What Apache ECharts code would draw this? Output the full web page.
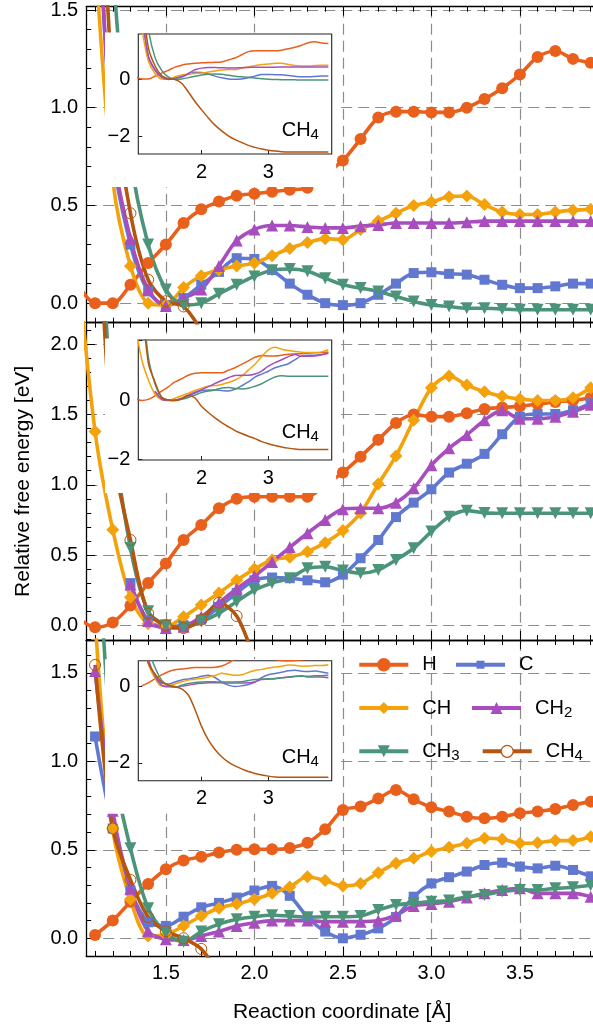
<!DOCTYPE html>
<html><head><meta charset="utf-8">
<script src="https://cdn.jsdelivr.net/npm/echarts@6/dist/echarts.min.js"></script>
<style>html,body{margin:0;padding:0;background:#fff}#c{width:593px;height:1032px}</style>
</head><body><div id="c"></div>
<script>
// ---------------- data ----------------
const X = [1.0,1.1,1.2,1.3,1.4,1.5,1.6,1.7,1.8,1.9,2.0,2.1,2.2,2.3,2.4,2.5,2.6,2.7,2.8,2.9,3.0,3.1,3.2,3.3,3.4,3.5,3.6,3.7,3.8,3.9];
const SERIES_NAMES = ['H','C','CH','CH2','CH3','CH4'];

// panel 1 (top)
const H_1   = [0.10,0.00,0.00,0.094,0.205,0.30,0.41,0.48,0.52,0.55,0.56,0.57,0.58,0.59,0.66,0.73,0.84,0.95,0.98,0.98,0.976,0.976,1.00,1.045,1.10,1.17,1.26,1.29,1.25,1.23];
const C_1   = [null,2.4,0.78,0.30,0.06,-0.01,0.026,0.094,0.16,0.23,0.226,0.17,0.10,0.043,0.0,-0.01,0.0,0.043,0.10,0.154,0.158,0.15,0.146,0.12,0.094,0.077,0.077,0.086,0.10,0.10];
const CH_1  = [null,1.8,0.63,0.19,0.0,-0.01,0.08,0.14,0.17,0.19,0.205,0.243,0.28,0.31,0.33,0.325,0.377,0.42,0.46,0.50,0.517,0.545,0.548,0.505,0.466,0.454,0.454,0.466,0.476,0.48];
const CH2_1 = [null,2.4,0.8,0.33,0.07,-0.014,0.026,0.07,0.19,0.32,0.377,0.397,0.397,0.39,0.385,0.385,0.394,0.40,0.41,0.41,0.41,0.41,0.414,0.42,0.42,0.42,0.42,0.42,0.42,0.42];
const CH3_1 = [null,4.0,1.75,0.75,0.30,0.07,-0.01,0.0,0.048,0.094,0.137,0.168,0.175,0.163,0.128,0.094,0.077,0.06,0.034,0.009,-0.009,-0.017,-0.026,-0.026,-0.03,-0.034,-0.034,-0.034,-0.034,-0.034];
const CH4_1 = [null,3.0,1.1,0.46,0.12,0.01,-0.017,-0.15,-0.45,-0.78,-1.07,-1.35,-1.6,-1.8,-1.97,-2.1,-2.2,-2.3,-2.37,-2.43,-2.47,-2.5,-2.52,-2.53,-2.53,-2.53,-2.53,-2.53,-2.53,-2.53];

// panel 2 (middle)
const H_2   = [0.06,-0.014,0.02,0.14,0.30,0.44,0.607,0.714,0.833,0.90,0.915,0.915,0.915,0.915,1.0,1.087,1.20,1.32,1.44,1.50,1.485,1.485,1.51,1.54,1.55,1.56,1.575,1.59,1.60,1.62];
const C_2   = [null,null,null,0.30,0.03,-0.01,0.0,0.04,0.13,0.23,0.32,0.34,0.335,0.32,0.306,0.36,0.477,0.607,0.77,0.873,0.968,1.087,1.15,1.22,1.36,1.485,1.504,1.504,1.53,1.58];
const CH_2  = [2.6,1.38,0.68,0.20,0.01,-0.01,0.06,0.145,0.23,0.32,0.40,0.465,0.484,0.524,0.588,0.674,0.80,1.006,1.205,1.46,1.69,1.775,1.71,1.663,1.63,1.61,1.60,1.60,1.62,1.69];
const CH2_2 = [null,null,null,0.29,0.03,-0.02,-0.01,0.06,0.16,0.26,0.35,0.45,0.555,0.655,0.75,0.826,0.833,0.833,0.873,0.975,1.14,1.26,1.355,1.46,1.53,1.47,1.47,1.485,1.52,1.57];
const CH3_2 = [null,3.8,1.45,0.55,0.10,0.0,-0.014,0.026,0.085,0.168,0.25,0.30,0.335,0.405,0.417,0.39,0.37,0.394,0.465,0.548,0.667,0.773,0.816,0.80,0.797,0.797,0.797,0.797,0.797,0.797];
const CH4_2 = [null,3.5,1.25,0.607,0.085,0.0,-0.02,0.04,0.16,0.066,-0.22,-0.42,-0.6,-0.76,-0.9,-1.03,-1.13,-1.22,-1.3,-1.4,-1.47,-1.53,-1.58,-1.62,-1.65,-1.67,-1.67,-1.67,-1.67,-1.67];

// panel 3 (bottom)
const H_3   = [null,0.019,0.10,0.207,0.307,0.39,0.44,0.46,0.484,0.50,0.503,0.503,0.51,0.54,0.616,0.725,0.744,0.79,0.838,0.785,0.74,0.716,0.687,0.678,0.687,0.706,0.716,0.73,0.753,0.772];
const C_3   = [null,1.14,0.62,0.27,0.09,0.07,0.122,0.175,0.20,0.23,0.27,0.296,0.24,0.12,0.038,0.0,0.02,0.056,0.12,0.235,0.31,0.345,0.377,0.414,0.427,0.405,0.395,0.41,0.386,0.35];
const CH_3  = [null,1.8,0.62,0.22,0.013,0.02,0.07,0.126,0.17,0.194,0.22,0.254,0.29,0.348,0.326,0.296,0.31,0.37,0.424,0.452,0.49,0.514,0.537,0.565,0.56,0.537,0.54,0.552,0.552,0.574];
const CH2_3 = [null,1.51,0.72,0.28,0.04,-0.006,-0.01,0.013,0.038,0.07,0.088,0.10,0.10,0.10,0.094,0.094,0.094,0.10,0.13,0.183,0.194,0.207,0.23,0.254,0.273,0.282,0.254,0.254,0.254,0.235];
const CH3_3 = [null,2.6,1.0,0.508,0.17,0.03,-0.02,0.038,0.08,0.107,0.122,0.13,0.126,0.119,0.122,0.122,0.126,0.16,0.188,0.198,0.207,0.213,0.235,0.245,0.264,0.273,0.273,0.282,0.288,0.30];
const CH4_3 = [null,1.544,0.62,0.33,0.12,0.04,0.0,-0.06,-0.22,-0.6,-1.05,-1.4,-1.65,-1.84,-1.98,-2.08,-2.16,-2.23,-2.28,-2.32,-2.35,-2.37,-2.38,-2.38,-2.38,-2.38,-2.38,-2.38,-2.38,-2.38];

const PANEL_DATA = [
  {H:H_1, C:C_1, CH:CH_1, CH2:CH2_1, CH3:CH3_1, CH4:CH4_1},
  {H:H_2, C:C_2, CH:CH_2, CH2:CH2_2, CH3:CH3_2, CH4:CH4_2},
  {H:H_3, C:C_3, CH:CH_3, CH2:CH2_3, CH3:CH3_3, CH4:CH4_3}
];

// ---------------- style / layout ----------------
const FONT = 'Liberation Sans';
const COLORS = {H:'#E8601C', C:'#6078D0', CH:'#F4A20C', CH2:'#A84DBE', CH3:'#4C9479', CH4:'#B5560E'};
const SYM = {H:['circle',12,0], C:['rect',10,0], CH:['diamond',[13,13],0], CH2:['triangle',12,0], CH3:['triangle',12,180], CH4:['circle',11,0]};
const GRID_LEFT = 86.2, GRID_W = 506.8, XMIN = 1.05, XMAX = 3.913;
const PANELS = [
  {top:6.7,   h:316,   ymin:-0.1,  ymax:1.517, insTop:34,    insMin:-2.6,  insMax:1.56, labY:130},
  {top:322.7, h:317.3, ymin:-0.105,ymax:2.154, insTop:340,   insMin:-2.02, insMax:2.02, labY:432},
  {top:640,   h:316,   ymin:-0.1,  ymax:1.685, insTop:660.7, insMin:-2.47, insMax:0.68, labY:757.5}
];
const INS_LEFT = 138.3, INS_W = 193.4, INS_H = 120;
const LEGEND_POS = {H:[357.3,666.7,17], C:[454,666.7,10], CH:[357.3,710,15], CH2:[470,710,15], CH3:[357.3,753.3,15], CH4:[480.7,753.3,15]};

const RICH = {
  n:{fontFamily:FONT, fontSize:20, lineHeight:24, color:'#000'},
  s:{fontFamily:FONT, fontSize:15, lineHeight:15, verticalAlign:'bottom', color:'#000'}
};
function richName(name){
  const m = name.match(/^([A-Z]+)(\d?)$/);
  return '{n|' + m[1] + '}' + (m[2] ? '{s|' + m[2] + '}' : '');
}
const minus = v => (v < 0 ? '\u2212' + Math.abs(v) : String(v));

const grids = [], xAxes = [], yAxes = [], series = [], graphics = [], legends = [];
const tickStyle = {color:'#000', width:1};
const dashStyle = {color:'#8c8c8c', width:1.2, type:[11,6]};

PANELS.forEach((p, pi) => {
  grids.push({left:GRID_LEFT, top:p.top, width:GRID_W, height:p.h, containLabel:false, outerBoundsMode:'none', z:0});
  grids.push({left:INS_LEFT, top:p.insTop, width:INS_W, height:INS_H, containLabel:false, outerBoundsMode:'none',
    show:true, backgroundColor:'rgba(0,0,0,0)', borderColor:'#222', borderWidth:1.1, z:55});
  const isLast = pi === 2;
  xAxes.push({type:'value', gridIndex:2*pi, position:'bottom', min:XMIN, max:XMAX, minInterval:0.5, maxInterval:0.5,
    axisLine:{show:true, onZero:false, lineStyle:{color:'#000', width:1.3}},
    axisTick:{show:true, inside:true, length:9, lineStyle:tickStyle},
    minorTick:{show:true, splitNumber:5, length:5, lineStyle:tickStyle},
    splitLine:{show:true, showMinLine:false, showMaxLine:false, lineStyle:dashStyle},
    axisLabel:{show:isLast, margin:7, fontSize:20, fontFamily:FONT, color:'#000', showMinLabel:false, showMaxLabel:false,
      formatter:v => v.toFixed(1)},
    name: isLast ? 'Reaction coordinate [\u00C5]' : '', nameLocation:'middle', nameGap:46,
    nameTextStyle:{fontSize:21, fontFamily:FONT, color:'#000', padding:[0,0,0,5]}, z:0});
  xAxes.push({type:'value', gridIndex:2*pi, position:'top', min:XMIN, max:XMAX, minInterval:0.5, maxInterval:0.5,
    axisLine:{show:true, onZero:false, lineStyle:{color:'#000', width:1.3}},
    axisTick:{show:true, inside:true, length:9, lineStyle:tickStyle},
    minorTick:{show:true, splitNumber:5, length:5, lineStyle:tickStyle},
    splitLine:{show:false}, axisLabel:{show:false}, z:0});
  xAxes.push({type:'value', gridIndex:2*pi+1, position:'bottom', min:1.05, max:3.95, minInterval:1, maxInterval:1,
    axisLine:{show:false, onZero:false},
    axisTick:{show:true, inside:true, length:4, lineStyle:{color:'#222', width:1}},
    splitLine:{show:false},
    axisLabel:{show:true, margin:8, fontSize:20, fontFamily:FONT, color:'#000', showMinLabel:false, showMaxLabel:false,
      formatter:v => (v === 2 || v === 3) ? String(v) : ''}, z:56});
  yAxes.push({type:'value', gridIndex:2*pi, position:'left', min:p.ymin, max:p.ymax, minInterval:0.5, maxInterval:0.5,
    axisLine:{show:true, onZero:false, lineStyle:{color:'#000', width:1.3}},
    axisTick:{show:true, inside:true, length:9, lineStyle:tickStyle},
    minorTick:{show:true, splitNumber:5, length:5, lineStyle:tickStyle},
    splitLine:{show:true, showMinLine:false, showMaxLine:false, lineStyle:dashStyle},
    axisLabel:{show:true, margin:8, fontSize:20, fontFamily:FONT, color:'#000', showMinLabel:false, showMaxLabel:false,
      formatter:v => (Math.abs(v*2 - Math.round(v*2)) < 1e-6 ? v.toFixed(1) : '')},
    name: pi === 1 ? 'Relative free energy [eV]' : '', nameLocation:'middle', nameGap:52, nameRotate:90,
    nameTextStyle:{fontSize:21, fontFamily:FONT, color:'#000'}, z:0});
  yAxes.push({type:'value', gridIndex:2*pi+1, position:'left', min:p.insMin, max:p.insMax, minInterval:2, maxInterval:2,
    axisLine:{show:false, onZero:false},
    axisTick:{show:true, inside:true, length:4, lineStyle:{color:'#222', width:1}},
    splitLine:{show:false},
    axisLabel:{show:true, margin:8, fontSize:20, fontFamily:FONT, color:'#000', showMinLabel:false, showMaxLabel:false,
      formatter:v => (v === 0 || v === -2) ? minus(v) : ''}, z:56});

  graphics.push({type:'rect', z:50, silent:true,
    shape:{x:INS_LEFT-33.3, y:p.insTop-1.5, width:INS_W+37.7, height:INS_H+34.5},
    style:{fill:'#fff'}});
  graphics.push({type:'text', z:60, silent:true, x:281.7, y:p.labY,
    style:{text:richName('CH4'), rich:RICH, align:'left', verticalAlign:'middle'}});
});

PANELS.forEach((p, pi) => {
  SERIES_NAMES.forEach(n => {
    const arr = PANEL_DATA[pi][n];
    const pts = [];
    X.forEach((x, i) => { if (arr[i] !== null) pts.push([x, arr[i]]); });
    const s = SYM[n];
    const open = n === 'CH4';
    series.push({type:'line', name:n, xAxisIndex:3*pi, yAxisIndex:2*pi, data:pts,
      smooth:0.3, clip:true, showSymbol:true, showAllSymbol:true,
      symbol:s[0], symbolSize:s[1], symbolRotate:s[2],
      lineStyle:{color:COLORS[n], width:3.6},
      itemStyle: open ? {color:'rgba(255,255,255,0)', borderColor:COLORS[n], borderWidth:1}
                      : {color:COLORS[n], borderColor:COLORS[n], borderWidth:0},
      emphasis:{disabled:true}, z:2});
  });
});
PANELS.forEach((p, pi) => {
  series.push({type:'line', name:'zero', xAxisIndex:3*pi+2, yAxisIndex:2*pi+1, data:[], z:56, silent:true,
    markLine:{silent:true, symbol:'none', label:{show:false}, animation:false,
      lineStyle:{color:'#d4d4d4', width:2, type:'solid'}, data:[{yAxis:0}]}});
  SERIES_NAMES.forEach(n => {
    const arr = PANEL_DATA[pi][n];
    const pts = [];
    X.forEach((x, i) => { if (arr[i] !== null) pts.push([x, arr[i]]); });
    series.push({type:'line', name:n, xAxisIndex:3*pi+2, yAxisIndex:2*pi+1, data:pts,
      smooth:0.3, clip:true, showSymbol:false, symbol:'none',
      lineStyle:{color:COLORS[n], width:1.5}, emphasis:{disabled:true}, z:57});
  });
});

SERIES_NAMES.forEach(n => {
  const lp = LEGEND_POS[n];
  const lg = {data:[n], left:lp[0], top:lp[1]-12, orient:'horizontal', padding:0,
    itemWidth:49, itemHeight:lp[2], selectedMode:false, z:4,
    lineStyle:{width:4, color:COLORS[n]},
    formatter:richName,
    textStyle:{padding:[0,0,0,9], rich:RICH, color:'#000', fontFamily:FONT, fontSize:20}};
  if (n === 'CH4') lg.itemStyle = {color:'#fff', borderColor:COLORS[n], borderWidth:1.2};
  legends.push(lg);
});

const chart = echarts.init(document.getElementById('c'), null, {renderer:'canvas'});
chart.setOption({
  animation:false,
  backgroundColor:'#fff',
  textStyle:{fontFamily:FONT},
  grid:grids, xAxis:xAxes, yAxis:yAxes, series:series, legend:legends,
  graphic:{elements:graphics}
});
</script>
</body></html>
